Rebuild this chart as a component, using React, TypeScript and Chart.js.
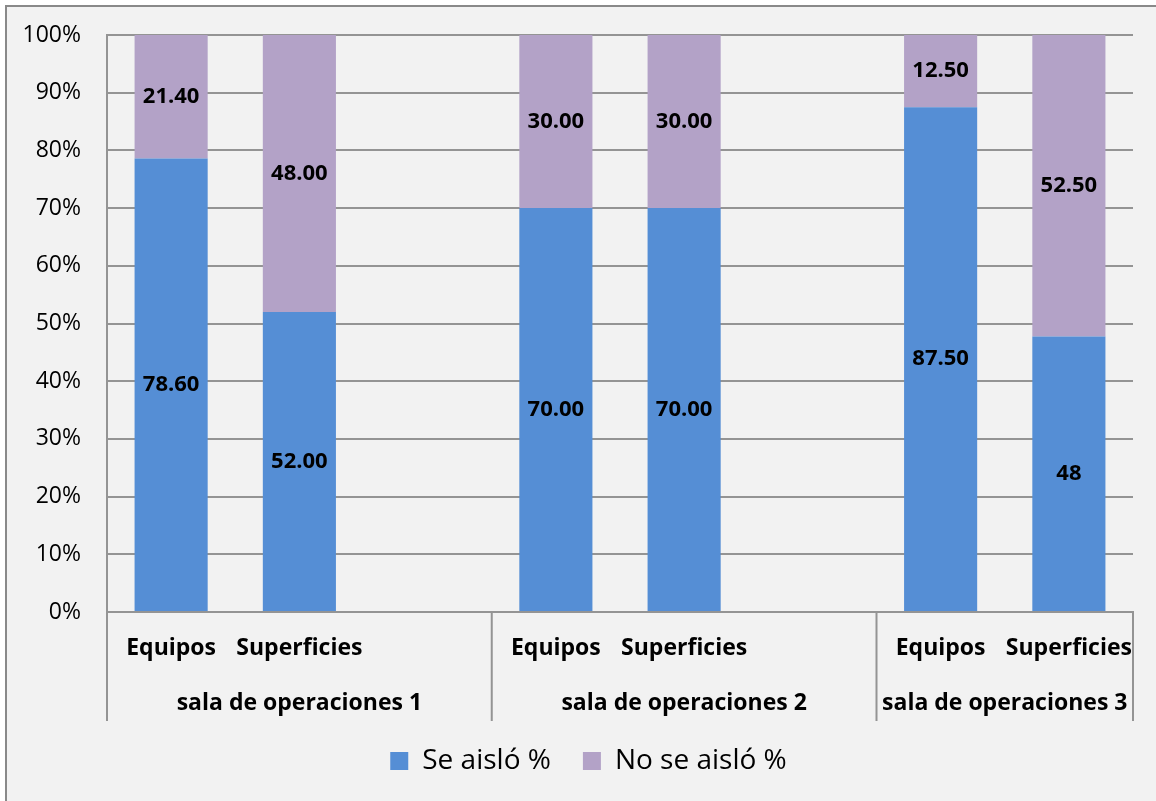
import React, { useEffect, useRef } from "react";
import { Chart, registerables } from "chart.js";

Chart.register(...registerables);

const categories = ["Equipos", "Superficies", "", "Equipos", "Superficies", "", "Equipos", "Superficies"];
const groupNames = ["sala de operaciones 1", "sala de operaciones 2", "sala de operaciones 3"];
const groupSizes = [3, 3, 2];
const seAislo = [78.6, 52, null, 70, 70, null, 87.5, 48];
const noSeAislo = [21.4, 48, null, 30, 30, null, 12.5, 52.5];
const seAisloLabels = ["78.60", "52.00", "", "70.00", "70.00", "", "87.50", "48"];
const noSeAisloLabels = ["21.40", "48.00", "", "30.00", "30.00", "", "12.50", "52.50"];
const seriesNames = ["Se aisló %", "No se aisló %"];

const FONT = "'Open Sans', Lato, sans-serif";
const GRAY = "#949494";

function toPercent(a: (number | null)[], b: (number | null)[]) {
  return a.map((v, i) => {
    if (v === null || b[i] === null) return null;
    const total = (v as number) + (b[i] as number);
    return ((v as number) / total) * 100;
  });
}

export default function App() {
  const ref = useRef<HTMLCanvasElement | null>(null);

  useEffect(() => {
    if (!ref.current) return;
    const pctA = toPercent(seAislo, noSeAislo);
    const pctB = toPercent(noSeAislo, seAislo);
    const valueLabels = [seAisloLabels, noSeAisloLabels];

    const frame = {
      id: "frame",
      afterLayout(chart: any) {
        if (chart.legend) {
          chart.legend.left += 22;
          chart.legend.right += 22;
        }
      },
      beforeDraw(chart: any) {
        const c = chart.ctx;
        c.save();
        c.fillStyle = "#ffffff";
        c.fillRect(0, 0, chart.width, chart.height);
        c.fillStyle = "#F2F2F2";
        c.fillRect(5, 5, chart.width, chart.height);
        c.strokeStyle = "#898989";
        c.lineWidth = 2;
        c.beginPath();
        c.moveTo(6, chart.height + 5);
        c.lineTo(6, 6);
        c.lineTo(chart.width + 5, 6);
        c.stroke();
        c.restore();
      },
    };

    const dataLabels = {
      id: "dataLabels",
      afterDatasetsDraw(chart: any) {
        const c = chart.ctx;
        c.save();
        c.font = `bold 22px ${FONT}`;
        c.fillStyle = "#000";
        c.textAlign = "center";
        c.textBaseline = "middle";
        chart.data.datasets.forEach((_: any, di: number) => {
          const meta = chart.getDatasetMeta(di);
          meta.data.forEach((bar: any, j: number) => {
            const txt = valueLabels[di][j];
            if (!txt) return;
            const p = bar.getProps(["x", "y", "base"], true);
            c.fillText(txt, p.x, (p.y + p.base) / 2);
          });
        });
        c.restore();
      },
    };

    const multiAxis = {
      id: "multiAxis",
      afterDraw(chart: any) {
        const c = chart.ctx;
        const xs = chart.scales.x;
        const area = chart.chartArea;
        const lineBottom = area.bottom + 109;
        c.save();
        c.strokeStyle = GRAY;
        c.lineWidth = 2;
        let start = 0;
        const bounds: number[] = [xs.getPixelForValue(-0.5)];
        groupSizes.forEach((n) => {
          start += n;
          bounds.push(xs.getPixelForValue(start - 0.5));
        });
        c.beginPath();
        bounds.forEach((bx) => {
          c.moveTo(bx, area.bottom);
          c.lineTo(bx, lineBottom);
        });
        c.stroke();
        c.fillStyle = "#000";
        c.textAlign = "center";
        c.textBaseline = "middle";
        c.font = `bold 23px ${FONT}`;
        categories.forEach((name, i) => {
          if (!name) return;
          c.fillText(name, xs.getPixelForValue(i), area.bottom + 36);
        });
        groupNames.forEach((g, gi) => {
          c.fillText(g, (bounds[gi] + bounds[gi + 1]) / 2, area.bottom + 91);
        });
        c.restore();
      },
    };

    const chart = new Chart(ref.current, {
      type: "bar",
      data: {
        labels: categories.map((c, i) => c || " " + i),
        datasets: [
          { label: seriesNames[0], data: pctA, backgroundColor: "#558ED5", borderWidth: 0 },
          { label: seriesNames[1], data: pctB, backgroundColor: "#B3A2C7", borderWidth: 0 },
        ],
      },
      options: {
        responsive: false,
        animation: false,
        datasets: { bar: { categoryPercentage: 1, barPercentage: 0.57 } },
        layout: { padding: { left: 0, right: 23, top: 35, bottom: 16 } },
        plugins: {
          legend: {
            position: "bottom",
            labels: {
              boxWidth: 18,
              boxHeight: 18,
              padding: 32,
              color: "#000",
              font: { family: FONT, size: 28 },
            },
          },
          tooltip: { enabled: false },
        },
        scales: {
          x: {
            stacked: true,
            grid: { display: false },
            ticks: { display: false },
            border: { display: true, color: GRAY, width: 2 },
            afterFit(scale: any) {
              scale.height = 103;
            },
          },
          y: {
            stacked: true,
            min: 0,
            max: 100,
            grid: { color: GRAY, lineWidth: 2, drawTicks: false },
            border: { display: true, color: GRAY, width: 2 },
            ticks: {
              stepSize: 10,
              padding: 26,
              color: "#000",
              font: { family: FONT, size: 23 },
              callback: (v: any) => `${v}%`,
            },
            afterFit(scale: any) {
              scale.width = 107;
              scale.paddingTop = 0;
              scale.paddingBottom = 0;
            },
          },
        },
      },
      plugins: [frame, dataLabels, multiAxis],
    } as any);

    return () => chart.destroy();
  }, []);

  return (
    <div style={{ position: "fixed", left: 0, top: 0, width: 1156, height: 801 }}>
      <canvas ref={ref} width={1156} height={801} />
    </div>
  );
}
